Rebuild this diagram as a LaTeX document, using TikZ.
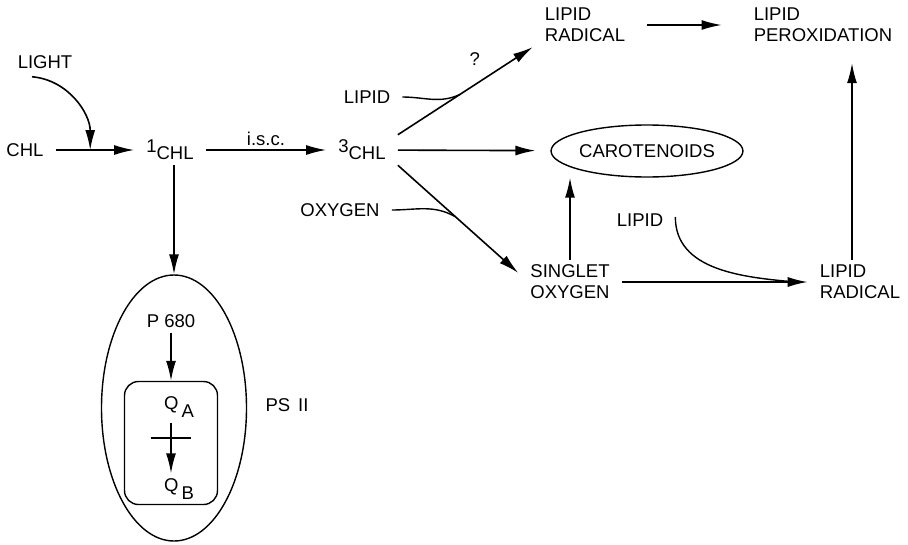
\documentclass[tikz,border=0pt]{standalone}
\usepackage{fontspec}
\setmainfont{Liberation Sans}
\usetikzlibrary{shapes.geometric, arrows.meta, positioning, calc}

\begin{document}
\begin{tikzpicture}[
  x=1pt, y=1pt,
  font=\fontsize{18.5}{21}\selectfont,
  txt/.style={inner xsep=12pt, inner ysep=5pt, align=left},
  arrow/.style={-{Latex[length=20pt,width=10pt]}, line width=1.6pt},
  link/.style={line width=1.4pt},
  oval/.style={ellipse, draw, line width=1.4pt, inner sep=0pt}
]
\useasboundingbox (0,0) rectangle (908,-544);

\node[txt] (light) at (45,-62) {LIGHT};
\node[txt] (chl) at (25,-150) {CHL};
\node[txt] (chl1) at (170,-150) {\raisebox{7pt}{1}CHL};
\node[txt] (t3) at (362,-150) {\raisebox{7pt}{3}CHL};
\node[txt] (lip1) at (367,-97) {LIPID};
\node[txt] (oxy) at (340,-210) {OXYGEN};
\node[txt] (rad1) at (585,-25) {LIPID\\RADICAL};
\node[txt] (perox) at (823,-25) {LIPID\\PEROXIDATION};
\node[oval, minimum width=175pt, minimum height=52pt] (carot) at (647,-151) {CAROTENOIDS};
\node[txt] (sing) at (570,-282) {SINGLET\\OXYGEN};
\node[txt] (lip3) at (640,-220) {LIPID};
\node[txt] (rad2) at (860,-282) {LIPID\\RADICAL};

\node[oval, minimum width=145pt, minimum height=266pt] (ps) at (174,-408) {};
\node[txt] (p680) at (171,-321) {P 680};
\node[draw, rounded corners=14pt, line width=1.4pt, minimum width=93pt, minimum height=123pt] (box) at (171,-443) {};
\node[txt] (qa) at (179,-407) {Q\kern3pt\raisebox{-8pt}{A}};
\node[txt] (qb) at (179,-489) {Q\kern3pt\raisebox{-8pt}{B}};
\node[txt] (psii) at (287,-405) {PS\hspace{8pt}II};

\coordinate (hv) at ($(chl.east)!0.44!(chl1.west)$);
\coordinate (lm) at ($(t3.north east)!0.46!(rad1.south west)$);
\coordinate (om) at ($(t3.south east)!0.48!(sing.170)$);
\coordinate (bar) at ($(qa.south -| box)!0.3!(qb.north -| box)$);

\draw[arrow] (chl) -- (chl1);
\draw[arrow] ([xshift=-13pt,yshift=-3pt]light.south) to[out=-5,in=90] (hv);
\draw[arrow] (chl1) -- (t3) node[midway,above] (isc) {i.s.c.};
\draw[arrow] (chl1.south -| ps) -- (ps.north);
\draw[arrow] (t3.north east) -- node[pos=0.6,above=13pt,xshift=-4pt] (qmark) {?} (rad1.south west);
\draw[link] (lip1.east) to[out=0,in=205] (lm);
\draw[arrow, shorten >=15pt] (t3) -- (carot);
\draw[arrow] (t3.south east) -- (sing.170);
\draw[link] (oxy.east) to[out=0,in=150] (om);
\draw[arrow, shorten <=10pt, shorten >=20pt] (rad1) -- (perox);
\draw[arrow] (sing.north) -- (sing.north |- carot.south);
\draw[arrow] (sing) -- (rad2);
\draw[link] ([yshift=3pt]lip3.east) to[out=-90,in=175] ([xshift=-12pt]rad2.west);
\draw[arrow, shorten >=16pt] ([xshift=-8pt]rad2.north) -- ([xshift=-8pt]rad2.north |- perox.south);

\draw[arrow] (p680) -- (box.north);
\draw[arrow] (qa.south -| box) -- (qb.north -| box);
\draw[link] ([xshift=-20pt]bar) -- ([xshift=20pt]bar);
\end{tikzpicture}
\end{document}
